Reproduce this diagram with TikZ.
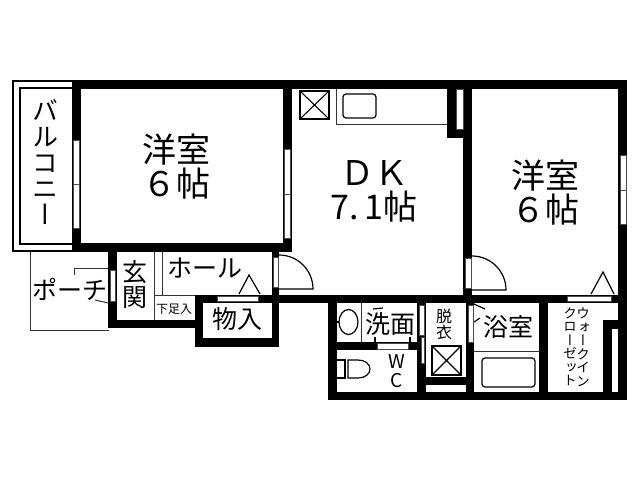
\documentclass[tikz,border=0pt]{standalone}
\usepackage{fontspec}
\usepackage{graphicx}
\setmainfont{Noto Sans CJK JP}
\newfontfamily\jpv{Noto Sans CJK JP}[RawFeature={+vert}]
\newcommand{\fs}[1]{\fontsize{#1}{#1}\selectfont}
\tikzset{
  wall/.style={fill=black,draw=none},
  glass/.style={fill=white,draw=black!70,line width=0.6pt},
  fine/.style={draw=black!80,line width=1pt},
  ink/.style={draw=black,line width=1.2pt},
  door/.style={draw=black,line width=1.2pt},
  lbl/.style={inner sep=0pt,outer sep=0pt,align=center,text=black},
}
\begin{document}
\begin{tikzpicture}[x=1pt,y=-1pt]
\useasboundingbox (0,0) rectangle (640,480);
\fill[white] (0,0) rectangle (640,480);
% balcony
\draw[line width=1.6pt] (72,81) -- (13,81) -- (13,251) -- (72,251);
\draw[line width=1.1pt] (72,88) -- (20,88) -- (20,244) -- (72,244);
% porch
\draw[fine] (30,252) -- (30,330.5) -- (109,330.5);
\draw[fine] (74,275) -- (74,268) -- (108,268);
\draw[fine] (95,300) -- (108,303);
% walls
\fill[wall] (72,80) rectangle (627,89);
\fill[wall] (72,80) rectangle (81,252);
\fill[wall] (72,243) rectangle (292,252);
\fill[wall] (283,80) rectangle (292,252);
\fill[wall] (463,80) rectangle (472,303);
\fill[wall] (618,80) rectangle (627,400);
\fill[wall] (447,80) rectangle (456,138);
\fill[wall] (447,129) rectangle (472,138);
\fill[wall] (272,247) rectangle (279,347);
\fill[wall] (195,295) rectangle (627,303);
\fill[wall] (108,252) rectangle (117,328);
\fill[wall] (108,320) rectangle (203,328);
\fill[wall] (195,295) rectangle (203,347);
\fill[wall] (195,338) rectangle (279,347);
\fill[wall] (328,295) rectangle (337,400);
\fill[wall] (328,392) rectangle (627,400);
\fill[wall] (337,342) rectangle (426,350);
\fill[wall] (417,295) rectangle (426,392);
\fill[wall] (426,377) rectangle (466,385);
\fill[wall] (466,295) rectangle (474,400);
\fill[wall] (539,295) rectangle (548,400);
\fill[wall] (603,320) rectangle (618,400);
\fill[white] (612,329) rectangle (618,392);
% windows
\draw[glass] (73,140) rectangle (79,184);
\draw[glass] (73,184) rectangle (79,228);
\draw[glass] (284,149) rectangle (290,194);
\draw[glass] (284,194) rectangle (290,238);
\draw[glass] (620,155) rectangle (626,190);
\draw[glass] (620,190) rectangle (626,224);
\draw[glass] (456,89) rectangle (463,129);
\draw[glass] (273,257) rectangle (278,287);
\draw[glass] (465,258) rectangle (471,288);
\draw[glass] (110,270) rectangle (115,301);
\draw[glass] (217,296) rectangle (258,301);
\draw[glass] (567,296) rectangle (611,301);
\draw[glass] (377,343) rectangle (408,349);
\draw[glass] (419,305) rectangle (424,335);
\draw[glass] (421,337) rectangle (424,363);
\draw[glass] (468,305) rectangle (473,342);
% doors
\draw[door] (279,255) arc[start angle=-90,end angle=0,radius=34] -- (279,289);
\draw[door] (472,256) arc[start angle=-90,end angle=0,radius=34] -- (472,290);
\draw[ink] (474,304) -- (485,309);
\draw[ink] (474,322) -- (480,318);
\draw[ink] (239,294) -- (249,275) -- (260,294);
\draw[ink] (591,294) -- (603,272) -- (614,294);
% genkan lines
\draw[fine] (154,252) -- (154,320);
\draw[fine] (162,252) -- (162,295);
\draw[fine] (154,295.5) -- (195,295.5);
% kitchen
\draw[fine] (336,89) -- (336,124) -- (447,124);
\draw[ink,rounded corners=3pt] (343,94) rectangle (376,118);
\draw[line width=1.4pt] (300,91) rectangle (329,119);
\draw[line width=1.1pt] (300,91) -- (329,119) (329,91) -- (300,119);
% wash
\draw[fine] (361,303) -- (361,342);
\draw[ink] (348.5,322) ellipse[x radius=9.5,y radius=12.5];
\draw[ink] (337,322) -- (339,322);
\draw[ink] (373,309) -- (383,308);
\draw[ink] (375,337) -- (375,342) (410,337) -- (410,342);
% toilet
\draw[ink] (337,360) -- (345,360) -- (345,378) -- (337,378);
\draw[ink] (348,360) -- (358,360) .. controls (365,360) and (370,364) .. (370,369) .. controls (370,374) and (365,378) .. (358,378) -- (348,378) -- cycle;
% dressing room
\draw[line width=1.4pt] (432,346) rectangle (461,375);
\draw[line width=1.1pt] (432,346) -- (461,375) (461,346) -- (432,375);
% bath
\draw[fine] (474,351) -- (540,351);
\draw[line width=1.2pt,rounded corners=3pt] (482,358) rectangle (535,387);
% labels
\node[lbl,font=\fs{34}] (room1) at (176,167) {\baselineskip=37pt 洋室\\６帖};
\node[lbl,font=\fs{34}] (dk) at (374,191) {\baselineskip=36pt ＤＫ\\7.\,1帖};
\node[lbl,font=\fs{34}] (room3) at (545,193) {\baselineskip=36pt 洋室\\６帖};
\node[lbl,font=\jpv\fs{26}] (balcony) at (45,162) {\baselineskip=27.5pt バ\\ル\\コ\\ニ\\ー};
\node[lbl,font=\fs{25}] (porch) at (70,289) {ポーチ};
\node[lbl,font=\fs{25}] (genkan) at (135,284) {\baselineskip=26pt 玄\\関};
\node[lbl,font=\fs{25}] (hall) at (205,268) {ホール};
\node[lbl,font=\fs{12}] (shoes) at (174,309) {下足入};
\node[lbl,font=\fs{25}] (store) at (237,319) {物入};
\node[lbl,font=\fs{25}] (wash) at (390,324) {洗面};
\node[lbl,font=\fs{16}] (dress) at (444,324) {\baselineskip=18pt 脱\\衣};
\node[lbl,font=\fs{19}] (wc) at (397,371) {\baselineskip=21pt W\\C};
\node[lbl,font=\fs{25}] (bath) at (508,327) {浴室};
\node[lbl,font=\jpv\fs{13.5}] (closetA) at (583,347) {\baselineskip=13.5pt ウ\\ォ\\ー\\ク\\イ\\ン};
\node[lbl,font=\jpv\fs{13.5}] (closetB) at (570,347) {\baselineskip=13.5pt ク\\ロ\\ー\\ゼ\\ッ\\ト};
\end{tikzpicture}
\end{document}
